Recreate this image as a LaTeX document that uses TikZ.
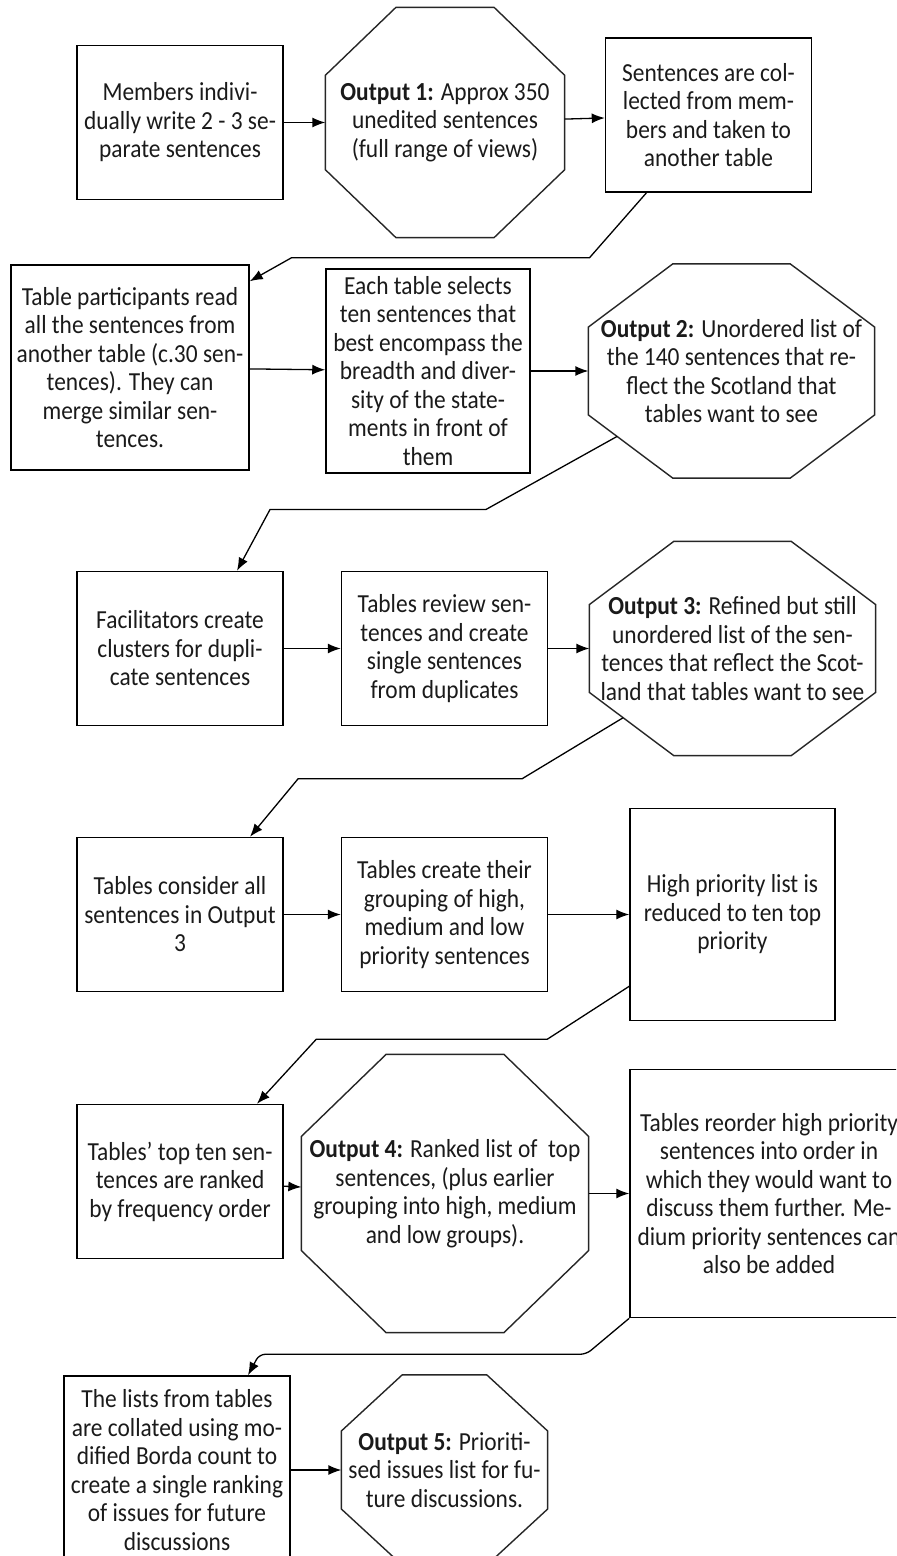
\documentclass[tikz,border=0pt]{standalone}
\usepackage{fontspec}
\setmainfont{Carlito}[FakeStretch=0.9]
\usetikzlibrary{arrows.meta,calc}
\definecolor{ink}{HTML}{1A1A1A}

\newcommand{\octframe}[1]{%
  \draw[octline] let \p1=(#1.north west), \p2=(#1.south east),
    \n1={0.295*(\x2-\x1)}, \n2={0.295*(\y1-\y2)} in
    (\x1+\n1,\y1) -- (\x2-\n1,\y1) -- (\x2,\y1-\n2) -- (\x2,\y2+\n2)
    -- (\x2-\n1,\y2) -- (\x1+\n1,\y2) coordinate (#1-sw) -- (\x1,\y2+\n2) coordinate (#1-ws)
    -- (\x1,\y1-\n2) -- cycle;}

\begin{document}
\begin{tikzpicture}[>={Latex[length=6.5pt,width=5pt]}, line width=0.65pt,
  font=\fontsize{13}{14.25}\selectfont,
  box/.style={draw, line width=0.75pt, align=center, inner sep=1.5pt, text=ink,
    minimum width=103pt, minimum height=77pt},
  outbox/.style={align=center, inner sep=1.5pt, text=ink},
  octline/.style={line width=0.7pt, draw=black!85}]
	\useasboundingbox (0,0) rectangle (448pt,-778pt);
	\clip (0,0) rectangle (448pt,-778pt);
	\node (Write) [box] at (90pt,-61.25pt) {Members indivi-\\dually write 2 - 3 se-\\parate sentences};
	\node (Out1) [outbox, minimum width=119pt, minimum height=114.5pt, node distance=132.5pt, right of=Write] {\textbf{Output 1:} Approx 350\\unedited sentences\\(full range of views)};
	\node (Collect) [box, node distance=131.75pt, right of=Out1, yshift=3.75pt] {Sentences are col-\\lected from mem-\\bers and taken to\\another table};
	\node (Read) [box, minimum width=119pt, minimum height=102.5pt, node distance=122.5pt, below of=Write, xshift=-25pt] {Table participants read\\all the sentences from\\another table (c.30 sen-\\tences). They can\\merge similar sen-\\tences.};
	\node (Select) [box, minimum width=102pt, minimum height=102pt, node distance=149pt, right of=Read, yshift=-1.75pt] {Each table selects\\ten sentences that\\best encompass the\\breadth and diver-\\sity of the state-\\ments in front of\\them};
	\node (Out2) [outbox, minimum width=142.5pt, minimum height=106.5pt, node distance=151.75pt, right of=Select] {\textbf{Output 2:} Unordered list of\\the 140 sentences that re-\\flect the Scotland that\\tables want to see};
	\node (Cluster) [box, node distance=140.5pt, below of=Read, xshift=25pt] {Facilitators create\\clusters for dupli-\\cate sentences};
	\node (Review) [box, node distance=132.25pt, right of=Cluster] {Tables review sen-\\tences and create\\single sentences\\from duplicates};
	\node (Out3) [outbox, minimum width=142.5pt, minimum height=106.5pt, node distance=144pt, right of=Review] {\textbf{Output 3:} Refined but still\\unordered list of the sen-\\tences that reflect the Scot-\\land that tables want to see};
	\node (Consider) [box, node distance=133pt, below of=Cluster] {Tables consider all\\sentences in Output\\3};
	\node (Group) [box, node distance=132.25pt, right of=Consider] {Tables create their\\grouping of high,\\medium and low\\priority sentences};
	\node (Reduce) [box, minimum width=102.5pt, minimum height=106pt, node distance=144pt, right of=Group] {High priority list is\\reduced to ten top\\priority};
	\node (Rank) [box, node distance=133.5pt, below of=Consider] {Tables' top ten sen-\\tences are ranked\\by frequency order};
	\node (Out4) [outbox, minimum width=143pt, minimum height=138.5pt, node distance=132.5pt, right of=Rank, yshift=-6pt] {\textbf{Output 4:} Ranked list of~ top\\sentences, (plus earlier\\grouping into high, medium\\and low groups).};
	\node (Reorder) [box, minimum width=139pt, minimum height=124pt, node distance=162pt, right of=Out4] {Tables reorder high priority\\sentences into order in\\which they would want to\\discuss them further. Me-\\dium priority sentences can\\also be added};
	\node (Borda) [box, minimum width=113pt, minimum height=94pt, node distance=144.25pt, below of=Rank, xshift=-1.5pt] {The lists from tables\\are collated using mo-\\dified Borda count to\\create a single ranking\\of issues for future\\discussions};
	\node (Out5) [outbox, minimum width=102.5pt, minimum height=94.5pt, node distance=133.75pt, right of=Borda] {\textbf{Output 5:} Prioriti-\\sed issues list for fu-\\ture discussions.};
	\octframe{Out1}
	\octframe{Out2}
	\octframe{Out3}
	\octframe{Out4}
	\octframe{Out5}
	\draw[->] (Write) to (Out1);
	\draw[->] (Out1) to (Collect);
	\draw[->] ([xshift=-31pt]Collect.south) -- ++(-28.5pt,-32.5pt) -- ++(-149pt,0) -- ([yshift=-8.5pt]Read.north east);
	\draw[->] (Read) to (Select);
	\draw[->] (Select) to (Out2);
	\draw[->] ($(Out2-ws)!0.34!(Out2-sw)$) -- ++(-65.5pt,-36.5pt) -- ++(-108pt,0) -- ([xshift=28.5pt]Cluster.north);
	\draw[->] (Cluster) to (Review);
	\draw[->] (Review) to (Out3);
	\draw[->] ($(Out3-ws)!0.4!(Out3-sw)$) -- ++(-50.5pt,-30.5pt) -- ++(-112pt,0) -- ([xshift=35pt]Consider.north);
	\draw[->] (Consider) to (Group);
	\draw[->] (Group) to (Reduce);
	\draw[->] ([yshift=17.5pt]Reduce.south west) -- ++(-41pt,-26.5pt) -- ++(-115.5pt,0) -- ([xshift=38.5pt]Rank.north);
	\draw[->] (Rank) to (Out4);
	\draw[->] (Out4) to (Reorder);
	\draw[->, rounded corners=3pt] (Reorder.south west) -- ++(-21.5pt,-18pt) -- ++(-163.5pt,0) -- ([xshift=35.5pt]Borda.north);
	\draw[->] (Borda) to (Out5);
\end{tikzpicture}
\end{document}
